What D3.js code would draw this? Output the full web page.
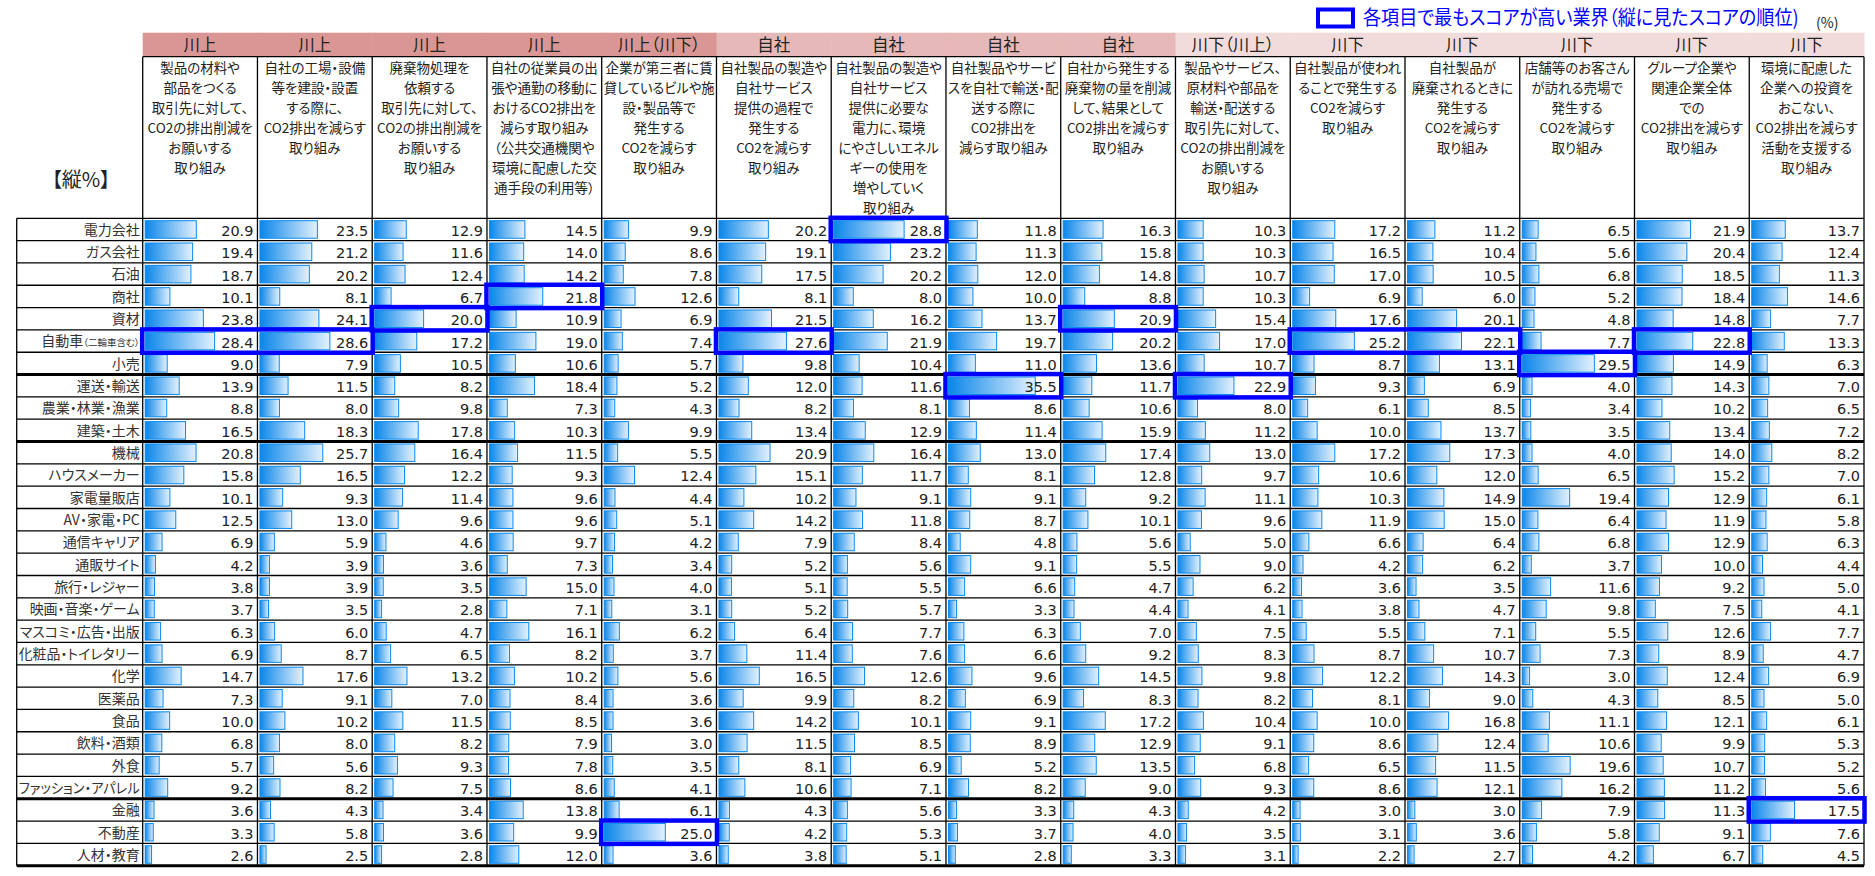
<!DOCTYPE html>
<html>
<head>
<meta charset="utf-8">
<script src="https://cdn.jsdelivr.net/npm/d3@7"></script>
<style>
body{margin:0;background:#fff;}
svg text{font-family:"Noto Sans CJK JP","Noto Sans",sans-serif;font-feature-settings:"palt" 1;}
svg text.num{font-family:"DejaVu Sans",sans-serif;font-feature-settings:normal;}
</style>
</head>
<body>
<script>
var width=1875, height=876;

// data
var stages=["川上","川上","川上","川上","川上（川下）","自社","自社","自社","自社","川下（川上）","川下","川下","川下","川下","川下"];
var stageColors={"川上":"#da9694","川上（川下）":"#da9694","自社":"#e6b8b7","川下（川上）":"#f2dcdb","川下":"#f2dcdb"};
var headers=[
	["製品の材料や","部品をつくる","取引先に対して、","CO2の排出削減を","お願いする","取り組み"],
	["自社の工場・設備","等を建設・設置","する際に、","CO2排出を減らす","取り組み"],
	["廃棄物処理を","依頼する","取引先に対して、","CO2の排出削減を","お願いする","取り組み"],
	["自社の従業員の出","張や通勤の移動に","おけるCO2排出を","減らす取り組み","（公共交通機関や","環境に配慮した交","通手段の利用等）"],
	["企業が第三者に賃","貸しているビルや施","設・製品等で","発生する","CO2を減らす","取り組み"],
	["自社製品の製造や","自社サービス","提供の過程で","発生する","CO2を減らす","取り組み"],
	["自社製品の製造や","自社サービス","提供に必要な","電力に、環境","にやさしいエネル","ギーの使用を","増やしていく","取り組み"],
	["自社製品やサービ","スを自社で輸送・配","送する際に","CO2排出を","減らす取り組み"],
	["自社から発生する","廃棄物の量を削減","して、結果として","CO2排出を減らす","取り組み"],
	["製品やサービス、","原材料や部品を","輸送・配送する","取引先に対して、","CO2の排出削減を","お願いする","取り組み"],
	["自社製品が使われ","ることで発生する","CO2を減らす","取り組み"],
	["自社製品が","廃棄されるときに","発生する","CO2を減らす","取り組み"],
	["店舗等のお客さん","が訪れる売場で","発生する","CO2を減らす","取り組み"],
	["グループ企業や","関連企業全体","での","CO2排出を減らす","取り組み"],
	["環境に配慮した","企業への投資を","おこない、","CO2排出を減らす","活動を支援する","取り組み"]
];
var industries=["電力会社","ガス会社","石油","商社","資材","自動車","小売","運送・輸送","農業・林業・漁業","建築・土木",
	"機械","ハウスメーカー","家電量販店","AV・家電・PC","通信キャリア","通販サイト","旅行・レジャー","映画・音楽・ゲーム",
	"マスコミ・広告・出版","化粧品・トイレタリー","化学","医薬品","食品","飲料・酒類","外食","ファッション・アパレル",
	"金融","不動産","人材・教育"];
var industryNotes={"自動車":"（二輪車含む）"};
var values=[
	[20.9,23.5,12.9,14.5,9.9,20.2,28.8,11.8,16.3,10.3,17.2,11.2,6.5,21.9,13.7],
	[19.4,21.2,11.6,14.0,8.6,19.1,23.2,11.3,15.8,10.3,16.5,10.4,5.6,20.4,12.4],
	[18.7,20.2,12.4,14.2,7.8,17.5,20.2,12.0,14.8,10.7,17.0,10.5,6.8,18.5,11.3],
	[10.1,8.1,6.7,21.8,12.6,8.1,8.0,10.0,8.8,10.3,6.9,6.0,5.2,18.4,14.6],
	[23.8,24.1,20.0,10.9,6.9,21.5,16.2,13.7,20.9,15.4,17.6,20.1,4.8,14.8,7.7],
	[28.4,28.6,17.2,19.0,7.4,27.6,21.9,19.7,20.2,17.0,25.2,22.1,7.7,22.8,13.3],
	[9.0,7.9,10.5,10.6,5.7,9.8,10.4,11.0,13.6,10.7,8.7,13.1,29.5,14.9,6.3],
	[13.9,11.5,8.2,18.4,5.2,12.0,11.6,35.5,11.7,22.9,9.3,6.9,4.0,14.3,7.0],
	[8.8,8.0,9.8,7.3,4.3,8.2,8.1,8.6,10.6,8.0,6.1,8.5,3.4,10.2,6.5],
	[16.5,18.3,17.8,10.3,9.9,13.4,12.9,11.4,15.9,11.2,10.0,13.7,3.5,13.4,7.2],
	[20.8,25.7,16.4,11.5,5.5,20.9,16.4,13.0,17.4,13.0,17.2,17.3,4.0,14.0,8.2],
	[15.8,16.5,12.2,9.3,12.4,15.1,11.7,8.1,12.8,9.7,10.6,12.0,6.5,15.2,7.0],
	[10.1,9.3,11.4,9.6,4.4,10.2,9.1,9.1,9.2,11.1,10.3,14.9,19.4,12.9,6.1],
	[12.5,13.0,9.6,9.6,5.1,14.2,11.8,8.7,10.1,9.6,11.9,15.0,6.4,11.9,5.8],
	[6.9,5.9,4.6,9.7,4.2,7.9,8.4,4.8,5.6,5.0,6.6,6.4,6.8,12.9,6.3],
	[4.2,3.9,3.6,7.3,3.4,5.2,5.6,9.1,5.5,9.0,4.2,6.2,3.7,10.0,4.4],
	[3.8,3.9,3.5,15.0,4.0,5.1,5.5,6.6,4.7,6.2,3.6,3.5,11.6,9.2,5.0],
	[3.7,3.5,2.8,7.1,3.1,5.2,5.7,3.3,4.4,4.1,3.8,4.7,9.8,7.5,4.1],
	[6.3,6.0,4.7,16.1,6.2,6.4,7.7,6.3,7.0,7.5,5.5,7.1,5.5,12.6,7.7],
	[6.9,8.7,6.5,8.2,3.7,11.4,7.6,6.6,9.2,8.3,8.7,10.7,7.3,8.9,4.7],
	[14.7,17.6,13.2,10.2,5.6,16.5,12.6,9.6,14.5,9.8,12.2,14.3,3.0,12.4,6.9],
	[7.3,9.1,7.0,8.4,3.6,9.9,8.2,6.9,8.3,8.2,8.1,9.0,4.3,8.5,5.0],
	[10.0,10.2,11.5,8.5,3.6,14.2,10.1,9.1,17.2,10.4,10.0,16.8,11.1,12.1,6.1],
	[6.8,8.0,8.2,7.9,3.0,11.5,8.5,8.9,12.9,9.1,8.6,12.4,10.6,9.9,5.3],
	[5.7,5.6,9.3,7.8,3.5,8.1,6.9,5.2,13.5,6.8,6.5,11.5,19.6,10.7,5.2],
	[9.2,8.2,7.5,8.6,4.1,10.6,7.1,8.2,9.0,9.3,8.6,12.1,16.2,11.2,5.6],
	[3.6,4.3,3.4,13.8,6.1,4.3,5.6,3.3,4.3,4.2,3.0,3.0,7.9,11.3,17.5],
	[3.3,5.8,3.6,9.9,25.0,4.2,5.3,3.7,4.0,3.5,3.1,3.6,5.8,9.1,7.6],
	[2.6,2.5,2.8,12.0,3.6,3.8,5.1,2.8,3.3,3.1,2.2,2.7,4.2,6.7,4.5]
];
var groupBreaks=[7,10,26]; // thick rule after these rows
var legendText="各項目で最もスコアが高い業界（縦に見たスコアの順位)";

var nCols=stages.length, nRows=industries.length;
var labelLeft=16.7;
var colX=d3.scaleLinear().domain([0,nCols]).range([142.7,1864]);
var rowY=d3.scaleLinear().domain([0,nRows]).range([218.3,865.7]);
var barW=d3.scaleLinear().domain([0,45]).range([0,110]);
var colW=colX(1)-colX(0), rowH=rowY(1)-rowY(0);
var bandTop=32.7, bandBottom=56.7;

var svg=d3.select("body").append("svg").attr("width",width).attr("height",height);

var grad=svg.append("defs").append("linearGradient").attr("id","bar").attr("x1","0").attr("x2","1");
grad.append("stop").attr("offset","0").attr("stop-color","#0a86ea");
grad.append("stop").attr("offset","1").attr("stop-color","#e3f1fd");

function fit(sel,maxW) {
	sel.each(function() {
		var w=this.getComputedTextLength();
		if (w>maxW) d3.select(this).attr("textLength",maxW).attr("lengthAdjust","spacingAndGlyphs");
	});
}

// stage band
svg.selectAll(".band").data(stages).enter().append("rect")
	.attr("x",function(d,i){return colX(i);}).attr("y",bandTop)
	.attr("width",colW+0.5).attr("height",bandBottom-bandTop)
	.attr("fill",function(d){return stageColors[d];});
svg.selectAll(".bandtxt").data(stages).enter().append("text")
	.attr("x",function(d,i){return colX(i+0.5);}).attr("y",bandTop+18)
	.attr("text-anchor","middle").attr("font-size",16.5).attr("fill","#222")
	.text(function(d){return d;});

// header texts
headers.forEach(function(lines,j) {
	svg.selectAll(".h"+j).data(lines).enter().append("text")
		.attr("x",colX(j+0.5)).attr("y",function(d,k){return 73.3+k*20;})
		.attr("text-anchor","middle").attr("font-size",13.5).attr("fill","#222")
		.text(function(d){return d;})
		.call(fit,colW-4);
});

svg.append("text").attr("x",81).attr("y",187).attr("text-anchor","middle")
	.attr("font-size",20).attr("fill","#222").text("【縦%】");

// row labels
var lab=svg.selectAll(".lab").data(industries).enter().append("text")
	.attr("x",colX(0)-3).attr("y",function(d,i){return rowY(i)+16.5;})
	.attr("text-anchor","end").attr("font-size",14).attr("fill","#333");
lab.append("tspan").text(function(d){return d;});
lab.filter(function(d){return industryNotes[d];}).append("tspan")
	.attr("font-size",9.5).text(function(d){return industryNotes[d];});
lab.call(fit,colX(0)-labelLeft-5);

// bars and values
var cells=[];
values.forEach(function(r,i){ r.forEach(function(v,j){ cells.push({row:i,col:j,v:v}); }); });

svg.selectAll(".bar").data(cells).enter().append("rect")
	.attr("x",function(d){return colX(d.col)+2.5;})
	.attr("y",function(d){return rowY(d.row)+2.4;})
	.attr("width",function(d){return barW(d.v);})
	.attr("height",rowH-4.8)
	.attr("fill","url(#bar)").attr("stroke","#0a8aef").attr("stroke-width",1);

svg.selectAll(".num").data(cells).enter().append("text").classed("num",true)
	.attr("x",function(d){return colX(d.col+1)-4;})
	.attr("y",function(d){return rowY(d.row)+17.6;})
	.attr("text-anchor","end").attr("font-size",14.5).attr("fill","#222")
	.text(function(d){return d.v.toFixed(1);});

// grid
var g=svg.append("g").attr("stroke","#000").attr("stroke-width",1.3);
g.append("line").attr("x1",colX(0)).attr("x2",colX(nCols)).attr("y1",bandBottom).attr("y2",bandBottom);
g.selectAll(".hl").data(d3.range(nRows+1)).enter().append("line")
	.attr("x1",labelLeft).attr("x2",colX(nCols))
	.attr("y1",function(d){return rowY(d);}).attr("y2",function(d){return rowY(d);})
	.attr("stroke-width",function(d){return (groupBreaks.indexOf(d)>=0||d==nRows)?3:1.3;});
g.append("line").attr("x1",labelLeft).attr("x2",labelLeft).attr("y1",rowY(0)).attr("y2",rowY(nRows));
g.selectAll(".vl").data(d3.range(nCols+1)).enter().append("line")
	.attr("x1",function(d){return colX(d);}).attr("x2",function(d){return colX(d);})
	.attr("y1",bandBottom).attr("y2",rowY(nRows));

// highest score per column, neighbouring columns on the same row share a box
var best=d3.range(nCols).map(function(j){ return d3.maxIndex(values,function(r){return r[j];}); });
var runs=[];
best.forEach(function(r,j) {
	var last=runs[runs.length-1];
	if (last && last.row==r && last.c1==j-1) last.c1=j;
	else runs.push({row:r,c0:j,c1:j});
});
svg.selectAll(".best").data(runs).enter().append("rect")
	.attr("x",function(d){return colX(d.c0)-0.5;})
	.attr("y",function(d){return rowY(d.row)-0.5;})
	.attr("width",function(d){return colX(d.c1+1)-colX(d.c0)+1;})
	.attr("height",rowH+1)
	.attr("fill","none").attr("stroke","#0000ff").attr("stroke-width",4.5);

// legend: squeeze the text sideways so it ends before "(%)"
svg.append("rect").attr("x",1318).attr("y",9.5).attr("width",35).attr("height",17)
	.attr("fill","none").attr("stroke","#0000ff").attr("stroke-width",4);
var leg=svg.append("text").attr("x",0).attr("y",0).attr("font-size",20).attr("fill","#0000ff")
	.text(legendText);
var legW=leg.node().getComputedTextLength();
var sx=Math.min(1,436/legW);
leg.attr("transform","translate(1363,25) scale("+sx+",1)");
svg.append("text").attr("x",1816).attr("y",28).attr("font-size",14).attr("fill","#222").text("(%)");
</script>
</body>
</html>
